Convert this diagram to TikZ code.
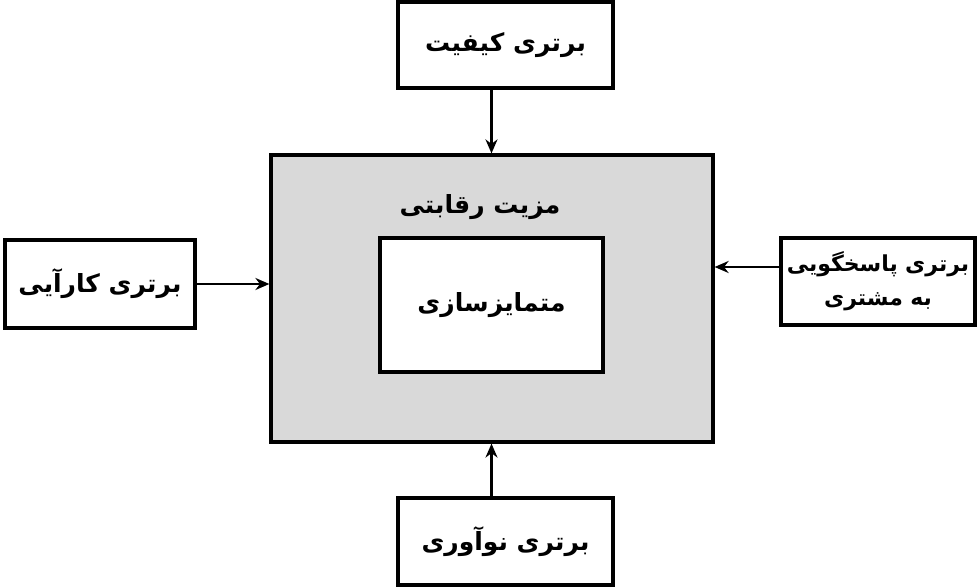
\documentclass[tikz,border=0pt]{standalone}
\usepackage{fontspec}
\usetikzlibrary{arrows.meta,positioning}
\TeXXeTstate=1
\newfontfamily\fafont[Script=Arabic]{DejaVu Sans}
\newcommand{\fa}[1]{\fafont\bfseries\beginR #1\endR}

\begin{document}
\begin{tikzpicture}[x=0.5pt, y=-0.5pt,
  box/.style = {draw, line width=1.6pt, fill=white, align=center,
                font=\fontsize{12.5}{19}\selectfont, inner sep=0pt},
  arr/.style = {-{Stealth[length=7pt,width=6pt]}, line width=1.1pt}]
\useasboundingbox (0,0) rectangle (980,587);
%
\node (adv)   [box, fill=gray!30, minimum width=221pt, minimum height=143.5pt] at (492,298.5) {};
\node (diff)  [box, minimum width=111.5pt, minimum height=67pt] at (491.5,305) {\fa{متمایزسازی}};
\node (advl)  [font=\fontsize{12.5}{19}\selectfont] at (480,207) {\fa{مزیت رقابتی}};
%
\node (qual)  [box, minimum width=107.5pt, minimum height=43pt] at (505.5,45) {\fa{برتری کیفیت}};
\node (eff)   [box, minimum width=95pt, minimum height=44pt] at (100,284) {\fa{برتری کارآیی}};
\node (resp)  [box, font=\fontsize{11}{17}\selectfont, text width=95pt,
               minimum width=97pt, minimum height=43.5pt] at (878,281.5)
              {\fa{برتری پاسخگویی}\\ \fa{به مشتری}};
\node (innov) [box, minimum width=107.5pt, minimum height=43.5pt] at (505.5,541.5) {\fa{برتری نوآوری}};
%
\coordinate (r1) at (781,267);
\draw[arr] (qual.south -| diff.north) -- (adv.north -| diff.north);
\draw[arr] (eff.east) -- (eff.east -| adv.west);
\draw[arr] (r1) -- (r1 -| adv.east);
\draw[arr] (innov.north -| diff.south) -- (adv.south -| diff.south);
\end{tikzpicture}
\end{document}
